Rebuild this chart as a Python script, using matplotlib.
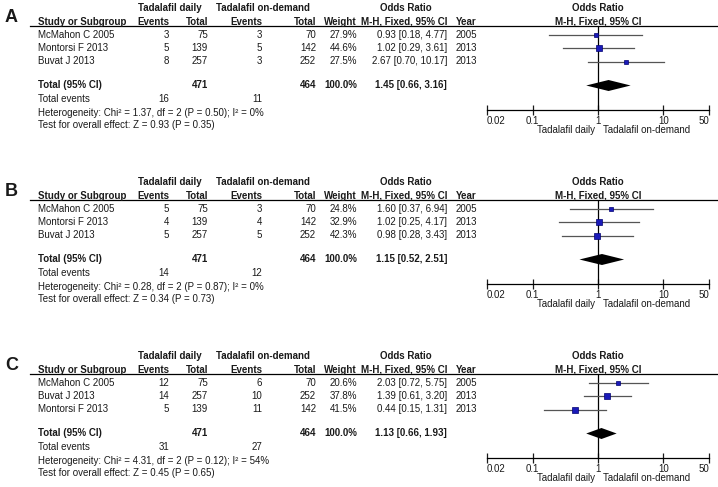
"""
plot.py
Three fixed-effect forest plots (A, B, C): Tadalafil daily vs Tadalafil on-demand
"""

import matplotlib
matplotlib.use("Agg")
import matplotlib.pyplot as plt
from matplotlib.ticker import FixedLocator, FixedFormatter, NullLocator

plt.rcParams['font.family'] = ['Liberation Sans', 'DejaVu Sans']

W, H = 718, 487
FS = 7.0
TXT = '#1a1a1a'

# ---- panel A ----
a_studies = ["McMahon C 2005", "Montorsi F 2013", "Buvat J 2013"]
a_ev_daily = [3, 5, 8]
a_n_daily = [75, 139, 257]
a_ev_od = [3, 5, 3]
a_n_od = [70, 142, 252]
a_weight = [27.9, 44.6, 27.5]
a_or = [0.93, 1.02, 2.67]
a_lo = [0.18, 0.29, 0.70]
a_hi = [4.77, 3.61, 10.17]
a_year = [2005, 2013, 2013]
a_total = [1.45, 0.66, 3.16]
a_tot_events = [16, 11]
a_het = ["1.37", "0.50", "0%"]
a_test = ["0.93", "0.35"]

# ---- panel B ----
b_studies = ["McMahon C 2005", "Montorsi F 2013", "Buvat J 2013"]
b_ev_daily = [5, 4, 5]
b_n_daily = [75, 139, 257]
b_ev_od = [3, 4, 5]
b_n_od = [70, 142, 252]
b_weight = [24.8, 32.9, 42.3]
b_or = [1.60, 1.02, 0.98]
b_lo = [0.37, 0.25, 0.28]
b_hi = [6.94, 4.17, 3.43]
b_year = [2005, 2013, 2013]
b_total = [1.15, 0.52, 2.51]
b_tot_events = [14, 12]
b_het = ["0.28", "0.87", "0%"]
b_test = ["0.34", "0.73"]

# ---- panel C ----
c_studies = ["McMahon C 2005", "Buvat J 2013", "Montorsi F 2013"]
c_ev_daily = [12, 14, 5]
c_n_daily = [75, 257, 139]
c_ev_od = [6, 10, 11]
c_n_od = [70, 252, 142]
c_weight = [20.6, 37.8, 41.5]
c_or = [2.03, 1.39, 0.44]
c_lo = [0.72, 0.61, 0.15]
c_hi = [5.75, 3.20, 1.31]
c_year = [2005, 2013, 2013]
c_total = [1.13, 0.66, 1.93]
c_tot_events = [31, 27]
c_het = ["4.31", "0.12", "54%"]
c_test = ["0.45", "0.65"]

n_totals = [471, 464]
ticks = [0.02, 0.1, 1, 10, 50]
tick_labels = ["0.02", "0.1", "1", "10", "50"]

panels = [
    dict(letter="A", y0=26, studies=a_studies, ev_d=a_ev_daily, n_d=a_n_daily,
         ev_o=a_ev_od, n_o=a_n_od, w=a_weight, orr=a_or, lo=a_lo, hi=a_hi,
         year=a_year, total=a_total, tev=a_tot_events, het=a_het, test=a_test),
    dict(letter="B", y0=200, studies=b_studies, ev_d=b_ev_daily, n_d=b_n_daily,
         ev_o=b_ev_od, n_o=b_n_od, w=b_weight, orr=b_or, lo=b_lo, hi=b_hi,
         year=b_year, total=b_total, tev=b_tot_events, het=b_het, test=b_test),
    dict(letter="C", y0=374, studies=c_studies, ev_d=c_ev_daily, n_d=c_n_daily,
         ev_o=c_ev_od, n_o=c_n_od, w=c_weight, orr=c_or, lo=c_lo, hi=c_hi,
         year=c_year, total=c_total, tev=c_tot_events, het=c_het, test=c_test),
]

# column right edges (pixels)
X_STUDY = 38
X_EVD, X_ND, X_EVO, X_NO, X_W, X_OR, X_YEAR = 169, 208, 262, 316, 357, 447, 477
X_PLOT0, X_PLOT1 = 487, 709

ROWS = [8.5, 22, 35.5]
Y_TOTAL = 59.5
Y_AXIS = 84


def t(ax, x, y, s, ha='right', bold=False, size=FS):
    ax.text(x, y, s, ha=ha, va='center', fontsize=size, color=TXT,
            fontweight='bold' if bold else 'normal')


def draw_panel(fig, bg, p):
    y0 = p['y0']
    # panel letter
    t(bg, 5, y0 - 8, p['letter'], ha='left', bold=True, size=13)
    # group headers
    t(bg, 170, y0 - 18, "Tadalafil daily", ha='center', bold=True)
    t(bg, 263, y0 - 18, "Tadalafil on-demand", ha='center', bold=True)
    t(bg, 406, y0 - 18, "Odds Ratio", ha='center', bold=True)
    t(bg, 598, y0 - 18, "Odds Ratio", ha='center', bold=True)
    # column headers
    hy = y0 - 4
    t(bg, X_STUDY, hy, "Study or Subgroup", ha='left', bold=True)
    for x, s in [(X_EVD, "Events"), (X_ND, "Total"), (X_EVO, "Events"),
                 (X_NO, "Total"), (X_W, "Weight"), (X_OR, "M-H, Fixed, 95% CI"),
                 (X_YEAR, "Year")]:
        t(bg, x, hy, s, bold=True)
    t(bg, 598, hy, "M-H, Fixed, 95% CI", ha='center', bold=True)
    bg.plot([30, W], [y0, y0], color='black', lw=0.9)

    # study rows
    for i, name in enumerate(p['studies']):
        y = y0 + ROWS[i]
        t(bg, X_STUDY, y, name, ha='left')
        t(bg, X_EVD, y, str(p['ev_d'][i]))
        t(bg, X_ND, y, str(p['n_d'][i]))
        t(bg, X_EVO, y, str(p['ev_o'][i]))
        t(bg, X_NO, y, str(p['n_o'][i]))
        t(bg, X_W, y, f"{p['w'][i]:.1f}%")
        t(bg, X_OR, y, f"{p['orr'][i]:.2f} [{p['lo'][i]:.2f}, {p['hi'][i]:.2f}]")
        t(bg, X_YEAR, y, str(p['year'][i]))

    # total rows
    y = y0 + Y_TOTAL
    tot = p['total']
    t(bg, X_STUDY, y, "Total (95% CI)", ha='left', bold=True)
    t(bg, X_ND, y, str(n_totals[0]), bold=True)
    t(bg, X_NO, y, str(n_totals[1]), bold=True)
    t(bg, X_W, y, "100.0%", bold=True)
    t(bg, X_OR, y, f"{tot[0]:.2f} [{tot[1]:.2f}, {tot[2]:.2f}]", bold=True)
    y = y0 + 73.5
    t(bg, X_STUDY, y, "Total events", ha='left')
    t(bg, X_EVD, y, str(p['tev'][0]))
    t(bg, X_EVO, y, str(p['tev'][1]))
    chi, pv, i2 = p['het']
    t(bg, X_STUDY, y0 + 86.5,
      f"Heterogeneity: Chi² = {chi}, df = 2 (P = {pv}); I² = {i2}", ha='left')
    z, pz = p['test']
    t(bg, X_STUDY, y0 + 99.5, f"Test for overall effect: Z = {z} (P = {pz})", ha='left')

    # forest plot
    ax = fig.add_axes([X_PLOT0 / W, 1 - (y0 + Y_AXIS) / H,
                       (X_PLOT1 - X_PLOT0) / W, Y_AXIS / H])
    ax.set_xscale('log')
    ax.set_xlim(ticks[0], ticks[-1])
    ax.set_ylim(Y_AXIS, 0)
    ax.patch.set_alpha(0)
    for s in ['top', 'left', 'right']:
        ax.spines[s].set_visible(False)
    ax.spines['bottom'].set_linewidth(0.9)
    ax.set_yticks([])
    ax.xaxis.set_major_locator(FixedLocator(ticks))
    ax.xaxis.set_major_formatter(FixedFormatter(tick_labels))
    ax.xaxis.set_minor_locator(NullLocator())
    ax.tick_params(axis='x', direction='inout', length=7, width=0.9,
                   labelsize=FS, pad=0.5, colors=TXT)
    labels = ax.get_xticklabels()
    labels[0].set_horizontalalignment('left')
    labels[-1].set_horizontalalignment('right')

    ax.axvline(1, color='black', lw=0.9)
    for i in range(len(p['studies'])):
        y = ROWS[i]
        ax.plot([p['lo'][i], p['hi'][i]], [y, y], color='#555555', lw=0.9)
        ax.plot(p['orr'][i], y, marker='s', ms=0.113 * p['w'][i],
                mfc='#1a1ab8', mec='#000070', mew=0.5)
    ym = Y_TOTAL
    ax.fill([tot[1], tot[0], tot[2], tot[0]], [ym, ym - 5.5, ym, ym + 5.5],
            color='black', lw=0)

    t(bg, 595, y0 + 104, "Tadalafil daily", ha='right')
    t(bg, 603, y0 + 104, "Tadalafil on-demand", ha='left')


def main():
    fig = plt.figure(figsize=(W / 100, H / 100), dpi=100)
    bg = fig.add_axes([0, 0, 1, 1])
    bg.set_xlim(0, W)
    bg.set_ylim(H, 0)
    bg.axis('off')
    for p in panels:
        draw_panel(fig, bg, p)
    fig.savefig("out.png", dpi=100, facecolor='white')


if __name__ == '__main__':
    main()
